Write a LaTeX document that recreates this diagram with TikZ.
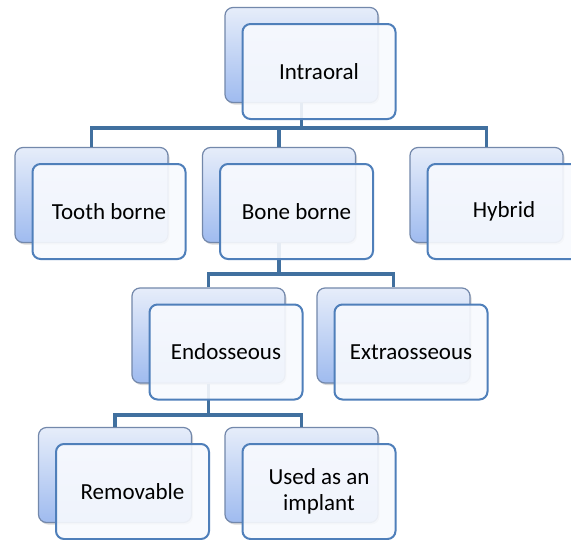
\documentclass[tikz,border=0pt]{standalone}
\usepackage{fontspec}
\setmainfont{Carlito}
\usetikzlibrary{shadows}
\definecolor{backtop}{HTML}{E6EDFA}
\definecolor{backbot}{HTML}{9FBBEF}
\definecolor{backline}{HTML}{7388AB}
\definecolor{frontfill}{HTML}{F8FAFE}
\definecolor{frontline}{HTML}{4F7FBA}
\definecolor{connline}{HTML}{41709F}
\tikzset{
  backbox/.style={rectangle, rounded corners=8pt, minimum width=153pt, minimum height=95pt,
    inner sep=0pt, draw=backline, line width=1.2pt, top color=backtop, bottom color=backbot,
    drop shadow={opacity=0.3, shadow xshift=1.5pt, shadow yshift=-2pt}},
  frontbox/.style={rectangle, rounded corners=8pt, minimum width=153pt, minimum height=95pt,
    inner sep=2pt, draw=frontline, line width=2pt, fill=frontfill, fill opacity=0.9,
    text opacity=1, align=center, text=black, font=\fontsize{23}{26}\selectfont},
  conn/.style={draw=connline, line width=3.5pt}
}
\begin{document}
\begin{tikzpicture}[x=1pt, y=-1pt]
\clip (0,0) rectangle (571,539);
\fill[white] (0,0) rectangle (571,539);
% back boxes
\node[backbox] (b1) at (301.5,55) {};
\node[backbox] (b2) at (91.5,195) {};
\node[backbox] (b3) at (279,195) {};
\node[backbox] (b4) at (486.5,195) {};
\node[backbox] (b5) at (208.5,335.5) {};
\node[backbox] (b6) at (393.5,335.5) {};
\node[backbox] (b7) at (115,475) {};
\node[backbox] (b8) at (301.5,475) {};
% junctions
\coordinate (j1) at (301.5,128);
\coordinate (j2) at (279,274);
\coordinate (j3) at (208.5,415);
% connectors
\draw[conn] (b1.south) -- (j1);
\draw[conn] (b2.north) -- (b2.north |- j1) -- (b4.north |- j1) -- (b4.north);
\draw[conn] (b3.north |- j1) -- (b3.north);
\draw[conn] (b3.south) -- (j2);
\draw[conn] (b5.north) -- (b5.north |- j2) -- (b6.north |- j2) -- (b6.north);
\draw[conn] (b5.south) -- (j3);
\draw[conn] (b7.north) -- (b7.north |- j3) -- (b8.north |- j3) -- (b8.north);
% front boxes
\node[frontbox] (f1) at (319,71.5) {Intraoral};
\node[frontbox] (f2) at (109,211.5) {Tooth borne};
\node[frontbox] (f3) at (296.5,211.5) {Bone borne};
\node[frontbox] (f4) at (504,211.5) {Hybrid};
\node[frontbox] (f5) at (226,352) {Endosseous};
\node[frontbox] (f6) at (411,352) {Extraosseous};
\node[frontbox] (f7) at (132.5,491.5) {Removable};
\node[frontbox] (f8) at (319,491.5) {Used as an\\implant};
\end{tikzpicture}
\end{document}
